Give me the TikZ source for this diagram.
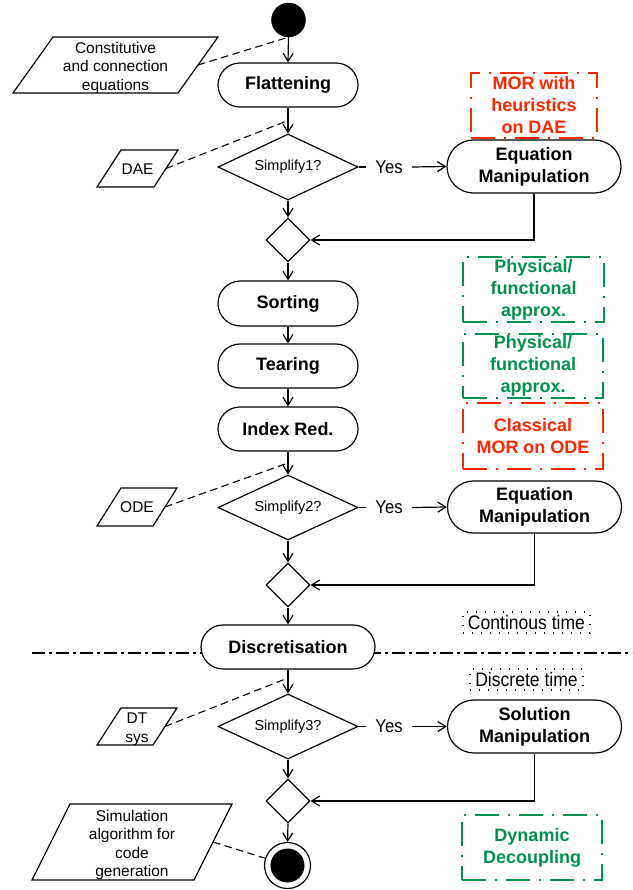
\documentclass[tikz,border=0pt]{standalone}
\usepackage{fontspec}
\setmainfont{Liberation Sans}
\newfontfamily\yesfont[FakeStretch=0.9]{Liberation Sans}
\newfontfamily\timefont[FakeStretch=0.9]{Liberation Sans}
\usetikzlibrary{shapes.geometric,shapes.misc,arrows.meta,backgrounds,calc}
\definecolor{morred}{RGB}{255,38,0}
\definecolor{appgreen}{RGB}{0,146,76}
\begin{document}
\begin{tikzpicture}[x=1pt,y=-1pt,
  lw/.style={line width=1.2pt},
  act/.style={rounded rectangle, draw, line width=1.2pt, fill=white,
    font=\fontsize{18}{22}\selectfont\bfseries, align=center, inner sep=0pt},
  dec/.style={diamond, draw, line width=1.2pt, aspect=2, inner sep=0pt,
    minimum width=140pt, minimum height=66pt,
    font=\fontsize{14.5}{18}\selectfont},
  merge/.style={diamond, draw, line width=1.2pt, inner sep=0pt,
    minimum width=44pt, minimum height=44pt},
  flow/.style={line width=1.2pt, -{Straight Barb[length=8pt,width=10pt]}},
  conn/.style={line width=1.1pt, dash pattern=on 7.5pt off 4.5pt},
  iotext/.style={align=center, inner sep=0pt, font=\fontsize{15.5}{18.5}\selectfont},
  yeslbl/.style={inner xsep=9pt, inner ysep=0pt, font=\yesfont\fontsize{18.5}{22}\selectfont},
  anno/.style={draw, line width=1.4pt, dash pattern=on 24pt off 9pt on 2pt off 9pt,
    font=\fontsize{18}{22}\selectfont\bfseries, align=center, inner sep=0pt},
  redanno/.style={anno, draw=morred, text=morred},
  greenanno/.style={anno, draw=appgreen, text=appgreen},
  timebox/.style={draw, line width=1.3pt, dash pattern=on 1.3pt off 7.7pt,
    font=\timefont\fontsize{19.5}{22}\selectfont, inner sep=0pt, minimum height=21pt}
]
\useasboundingbox (0,0) rectangle (632,890);

% main column
\node[circle, draw, fill=black, minimum size=34pt, inner sep=0pt] (start) at (288.5,20) {};
\node[act, minimum width=140pt, minimum height=44pt] (flat) at (288,85) {Flattening};
\node[dec] (s1) at (288,167) {Simplify1?};
\node[merge] (m1) at (288,240) {};
\node[act, minimum width=140pt, minimum height=45pt] (sort) at (288,303.5) {Sorting};
\node[act, minimum width=140pt, minimum height=44pt] (tear) at (288,366) {Tearing};
\node[act, minimum width=140pt, minimum height=44pt] (idx) at (288,429) {Index Red.};
\node[dec, minimum height=65pt] (s2) at (288,507.5) {Simplify2?};
\node[merge] (m2) at (288,585) {};
\node[act, minimum width=174pt, minimum height=44pt] (disc) at (288,647) {Discretisation};
\node[dec, minimum height=65pt] (s3) at (288,726.5) {Simplify3?};
\node[merge] (m3) at (288,801) {};
\node[circle, draw, line width=1.2pt, fill=white, minimum size=46pt, inner sep=0pt] (endc) at (287.5,865.5) {};
\node[circle, fill=black, minimum size=34pt, inner sep=0pt] (endin) at (endc.center) {};

% right column
\node[yeslbl] (yes1) at (389,167) {Yes};
\node[act, minimum width=174pt, minimum height=53pt] (eq1) at (534,166.5) {Equation\\Manipulation};
\node[yeslbl] (yes2) at (389,507.5) {Yes};
\node[act, minimum width=174pt, minimum height=52pt] (eq2) at (534.5,507) {Equation\\Manipulation};
\node[yeslbl] (yes3) at (389,726.5) {Yes};
\node[act, minimum width=174pt, minimum height=53pt] (sol) at (534.5,726.5) {Solution\\Manipulation};

% annotation boxes
\node[redanno, minimum width=126pt, minimum height=65pt] (mor1) at (534,105.5) {MOR with\\heuristics\\on DAE};
\node[greenanno, minimum width=141pt, minimum height=65pt] (phys1) at (533.5,289.5) {Physical/\\functional\\approx.};
\node[greenanno, minimum width=140pt, minimum height=64pt] (phys2) at (533,366) {Physical/\\functional\\approx.};
\node[redanno, minimum width=140pt, minimum height=66pt] (class) at (533,436) {Classical\\MOR on ODE};
\node[greenanno, minimum width=140pt, minimum height=65pt] (dyn) at (532,847.5) {Dynamic\\Decoupling};
\node[timebox, minimum width=127pt] (cont) at (526.5,622.5) {Continous time};
\node[timebox, minimum width=113pt] (discr) at (526.5,679.5) {Discrete time};

% input/output parallelograms
\node[iotext] (cons) at (115.5,67.5) {Constitutive\\and connection\\equations};
\draw[lw] (53,37) -- (218,37) -- (178,93) -- (13,93) -- cycle;
\coordinate (consE) at (198,65);
\node[iotext] (dae) at (137.5,169) {DAE};
\draw[lw] (121,150) -- (178,150) -- (154,187) -- (97,187) -- cycle;
\coordinate (daeE) at (166,168.5);
\node[iotext] (ode) at (137,507.5) {ODE};
\draw[lw] (121,488) -- (177,488) -- (153,526) -- (97,526) -- cycle;
\coordinate (odeE) at (165,507);
\node[iotext] (dt) at (137,729.5) {DT\\sys};
\draw[lw] (121,708) -- (177,708) -- (153,745) -- (97,745) -- cycle;
\coordinate (dtE) at (165,726.5);
\node[iotext] (sim) at (132,845) {Simulation\\algorithm for\\code\\generation};
\draw[lw] (70,804) -- (232,804) -- (194,880) -- (32,880) -- cycle;
\coordinate (simE) at (213,842);

% time separator
\coordinate (hl) at (32,653);
\coordinate (hr) at (632,653);
\begin{pgfonlayer}{background}
\draw[line width=1.2pt, dash pattern=on 13pt off 4pt on 3pt off 4pt] (hl) -- (hr);
\end{pgfonlayer}

% flow
\draw[flow] (start.south) -- (flat.north);
\draw[flow] (flat.south) -- (s1.north);
\draw[flow] (s1.south) -- (m1.north);
\draw[flow] (m1.south) -- (sort.north);
\draw[flow] (sort.south) -- (tear.north);
\draw[flow] (tear.south) -- (idx.north);
\draw[flow] (idx.south) -- (s2.north);
\draw[flow] (s2.south) -- (m2.north);
\draw[flow] (m2.south) -- (disc.north);
\draw[flow] (disc.south) -- (s3.north);
\draw[flow] (s3.south) -- (m3.north);
\draw[flow] (m3.south) -- (endc.north);

\draw[lw] (s1.east) -- (yes1.west);
\draw[flow] (yes1.east) -- (eq1.west);
\draw[flow] (eq1.south) |- (m1.east);
\draw[lw] (s2.east) -- (yes2.west);
\draw[flow] (yes2.east) -- (eq2.west);
\draw[flow] (eq2.south) |- (m2.east);
\draw[lw] (s3.east) -- (yes3.west);
\draw[flow] (yes3.east) -- (sol.west);
\draw[flow] (sol.south) |- (m3.east);

% data connectors
\draw[conn] (consE) -- (start.south);
\draw[conn] (daeE) -- ($(flat.south)!0.5!(s1.north)$);
\draw[conn] (odeE) -- ($(idx.south)!0.5!(s2.north)$);
\draw[conn] (dtE) -- ($(disc.south)!0.35!(s3.north)$);
\draw[conn] (simE) -- (endc.162);
\end{tikzpicture}
\end{document}
